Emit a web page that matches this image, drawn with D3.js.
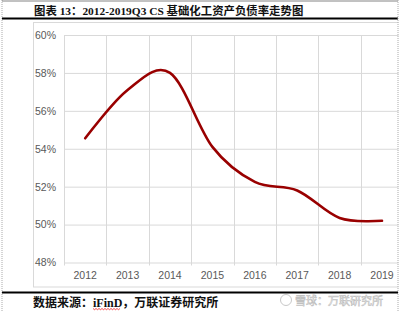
<!DOCTYPE html>
<html>
<head>
<meta charset="utf-8">
<script src="https://cdn.jsdelivr.net/npm/d3@7"></script>
<style>
  html, body { margin: 0; padding: 0; background: #fff; }
  svg { display: block; }
</style>
</head>
<body>
<svg id="chart" width="400" height="312"></svg>
<script>
// data
const years = ['2012','2013','2014','2015','2016','2017','2018','2019'];
const debtRatio = [54.55, 57.1, 58.0, 54.1, 52.25, 51.8, 50.35, 50.2];
const yTicks = [48, 50, 52, 54, 56, 58, 60];
const titleText = '图表 13：2012-2019Q3 CS 基础化工资产负债率走势图';
const sourceText = '数据来源：iFinD，万联证券研究所';
const markText = '雪球：万联研究所';

const svg = d3.select('#chart');
const W = 400, H = 312;
const plot = {left: 64, right: 403.2, top: 35, bottom: 262.5};

// outer frame, dotted grey sides
svg.append('line').attr('x1',2).attr('x2',2).attr('y1',0).attr('y2',H)
   .attr('stroke','#aaa').attr('stroke-dasharray','1,1');
svg.append('line').attr('x1',2).attr('x2',398).attr('y1',1).attr('y2',1)
   .attr('stroke','#666').attr('stroke-width',0.8);

// title
svg.append('text').attr('x',34).attr('y',14.5)
   .attr('font-family','"Liberation Serif","Noto Sans CJK SC",serif')
   .attr('font-size',11.4).attr('font-weight','bold').attr('fill','#111')
   .text(titleText);
svg.append('line').attr('x1',2).attr('x2',398).attr('y1',18.5).attr('y2',18.5)
   .attr('stroke','#000').attr('stroke-width',2);

// chart box
svg.append('rect').attr('x',33.5).attr('y',22.5).attr('width',380).attr('height',264.5)
   .attr('fill','none').attr('stroke','#d9d9d9');

const x = d3.scaleBand().domain(years).range([plot.left, plot.right]).padding(0);
const y = d3.scaleLinear().domain([48, 60]).range([plot.bottom, plot.top]);

// horizontal grid + y labels
const yAxis = svg.append('g').attr('transform','translate('+plot.left+',0)')
  .call(d3.axisLeft(y).tickValues(yTicks).tickSize(-(plot.right-plot.left))
        .tickPadding(8).tickFormat(d=>d+'%'));
yAxis.select('.domain').remove();
yAxis.selectAll('line').attr('stroke','#d9d9d9');
yAxis.selectAll('text').attr('fill','#595959')
  .attr('font-family','"Liberation Sans",Arial,sans-serif').attr('font-size',10.5);

// vertical grid at band edges
svg.append('g').selectAll('line.vgrid')
  .data(years).enter().append('line').attr('class','vgrid')
  .attr('x1',d=>Math.round(x(d))+0.5).attr('x2',d=>Math.round(x(d))+0.5)
  .attr('y1',y(60)).attr('y2',y(48)+3)
  .attr('stroke','#d9d9d9');

// x labels
const xAxis = svg.append('g').attr('transform','translate(0,'+plot.bottom+')')
  .call(d3.axisBottom(x).tickSize(0).tickPadding(9));
xAxis.select('.domain').remove();
xAxis.selectAll('text').attr('fill','#595959')
  .attr('font-family','"Liberation Sans",Arial,sans-serif').attr('font-size',10.5);

// smoothed line
const pts = years.map((yr,i)=>({year:yr, v:debtRatio[i]}));
const line = d3.line()
  .x(d=>x(d.year)+x.bandwidth()/2)
  .y(d=>y(d.v))
  .curve(d3.curveCardinal.tension(0));
svg.append('path').datum(pts).attr('d',line)
  .attr('fill','none').attr('stroke','#990000').attr('stroke-width',2.6)
  .attr('stroke-linecap','round');

// cover right side beyond frame
svg.append('rect').attr('x',398.5).attr('y',0).attr('width',10).attr('height',H).attr('fill','#fff');
svg.append('line').attr('x1',398).attr('x2',398).attr('y1',0).attr('y2',H)
   .attr('stroke','#aaa').attr('stroke-dasharray','1,1');

// source bar
svg.append('line').attr('x1',2).attr('x2',398).attr('y1',292.5).attr('y2',292.5)
   .attr('stroke','#000').attr('stroke-width',2);
svg.append('text').attr('x',33).attr('y',306.5)
   .attr('font-family','"Liberation Serif","Noto Sans CJK SC",serif')
   .attr('font-size',12).attr('font-weight','bold').attr('fill','#111')
   .text(sourceText);
// red squiggle under iFinD
let sq = 'M' + 93 + ',308.5';
for (let i = 0; i < 18; i++) sq += ' l1.5,' + (i%2 ? -1.2 : 1.2);
svg.append('path').attr('d',sq).attr('fill','none').attr('stroke','#e00').attr('stroke-width',0.7);

// watermark
svg.append('circle').attr('cx',286).attr('cy',300).attr('r',5.5)
   .attr('fill','none').attr('stroke','#c8c8c8').attr('stroke-width',1);
svg.append('text').attr('x',295).attr('y',304.5)
   .attr('font-family','"Noto Sans CJK SC",sans-serif').attr('font-size',11)
   .attr('fill','#fff').attr('stroke','#c0c0c0').attr('stroke-width',0.6)
   .text(markText);
</script>
</body>
</html>
